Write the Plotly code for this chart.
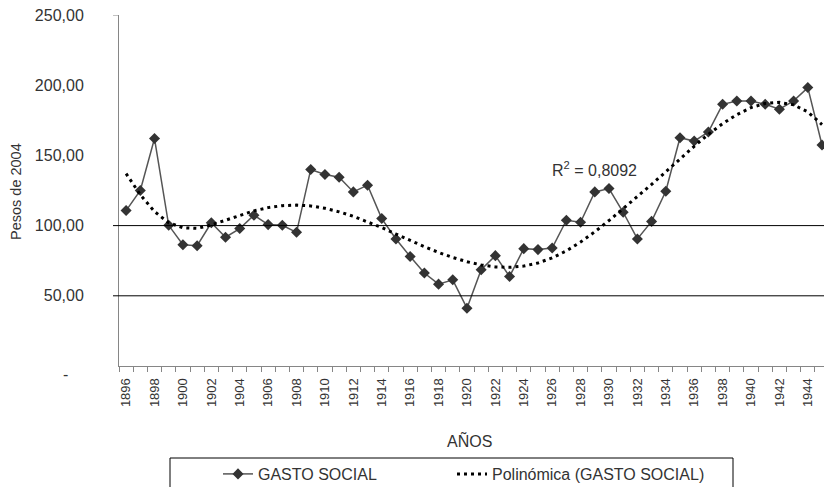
import plotly.graph_objects as go

years = list(range(1896, 1946))
gasto_social = [110.7, 125.0, 162.0, 100.2, 86.4, 85.7, 102.0, 91.7, 97.9, 107.4,
                100.7, 100.2, 95.2, 140.0, 136.4, 134.5, 124.0, 128.8, 105.0, 90.5,
                78.0, 66.2, 58.3, 61.4, 41.2, 68.6, 78.6, 63.8, 83.6, 82.9,
                84.0, 103.8, 102.4, 124.0, 126.4, 109.5, 90.5, 103.0, 124.5, 162.6,
                160.2, 166.7, 186.4, 188.8, 188.8, 186.4, 182.9, 188.8, 198.3, 157.4]
# polynomial trendline
tendencia = [137.0, 122.0, 110.0, 102.0, 98.5, 98.0, 100.5, 104.0, 107.5, 110.5,
             112.8, 114.2, 114.6, 114.0, 112.3, 109.8, 106.6, 102.8, 98.6, 94.0,
             89.4, 85.0, 80.9, 77.3, 74.3, 72.0, 70.6, 70.3, 71.2, 73.4,
             77.0, 82.0, 88.3, 95.6, 103.6, 112.0, 120.6, 129.3, 138.3, 147.5,
             156.5, 165.0, 172.6, 179.0, 184.0, 187.0, 187.8, 186.0, 181.0, 172.0]
x_tick_vals = list(range(1896, 1946, 2))
x_tick_text = [str(y) for y in x_tick_vals]
y_tick_vals = [50, 100, 150, 200, 250]
y_tick_text = ["50,00", "100,00", "150,00", "200,00", "250,00"]
zero_label = "-"
r2_text = "R<sup>2</sup> = 0,8092"

FONT = "Liberation Sans, Arial, sans-serif"
TXT = "#333333"
AX = "#868686"

W, H = 824, 487
L, R, T, B = 119, 0, 15, 121
PW = W - L - R
PH = H - T - B

def px_x(p):
    return (p - L) / PW

def px_y(p):
    return (H - B - p) / PH

fig = go.Figure()
fig.add_trace(go.Scatter(
    x=years, y=gasto_social, mode="lines+markers", name="GASTO SOCIAL",
    line=dict(color="#555555", width=1.5),
    marker=dict(symbol="diamond", size=8.5, color="#333333"),
    legendwidth=189,
))
fig.add_trace(go.Scatter(
    x=years, y=tendencia, mode="lines", name="Polinómica (GASTO SOCIAL)",
    line=dict(color="#000000", width=3, dash="3px,4px"),
    legendwidth=236,
))

shapes = [
    dict(type="line", xref="paper", yref="y", x0=-6 / PW, x1=1, y0=100, y1=100,
         line=dict(color="#000000", width=1)),
    dict(type="line", xref="paper", yref="y", x0=-6 / PW, x1=1, y0=50, y1=50,
         line=dict(color="#000000", width=1)),
    dict(type="line", xref="paper", yref="y", x0=-6 / PW, x1=0, y0=250, y1=250,
         line=dict(color=AX, width=1)),
    dict(type="rect", xref="paper", yref="paper", x0=px_x(170), x1=px_x(733),
         y0=px_y(458), y1=px_y(520), line=dict(color="#000000", width=1),
         fillcolor="rgba(0,0,0,0)"),
]

annotations = [
    dict(text=r2_text, xref="x", yref="y", x=1929, y=140.5, showarrow=False,
         xanchor="center", yanchor="middle",
         font=dict(family=FONT, size=16, color=TXT)),
    dict(text="Pesos de 2004", xref="paper", yref="paper", x=px_x(15.5), y=px_y(191.5),
         xanchor="center", yanchor="middle",
         textangle=-90, showarrow=False, font=dict(family=FONT, size=14.5, color=TXT)),
    dict(text="AÑOS", xref="paper", yref="paper", x=px_x(469), y=px_y(440),
         xanchor="center", yanchor="middle",
         showarrow=False, font=dict(family=FONT, size=16, color=TXT)),
    dict(text=zero_label, xref="paper", yref="paper", x=px_x(65.5), y=px_y(375),
         xanchor="center", yanchor="middle",
         showarrow=False, font=dict(family=FONT, size=16, color=TXT)),
]

fig.update_layout(
    width=W, height=H,
    margin=dict(l=L, r=R, t=T, b=B, pad=0, autoexpand=False),
    paper_bgcolor="white", plot_bgcolor="white",
    font=dict(family=FONT, color=TXT),
    showlegend=True,
    legend=dict(orientation="h", x=px_x(218), xanchor="left", y=px_y(457), yanchor="top",
                bgcolor="rgba(0,0,0,0)", borderwidth=0,
                font=dict(family=FONT, size=16, color=TXT)),
    shapes=shapes,
    annotations=annotations,
    xaxis=dict(
        range=[1895.5, 1945.14], showgrid=False, zeroline=False,
        showline=True, linecolor=AX, linewidth=1, automargin=False,
        tickmode="array", tickvals=x_tick_vals, ticktext=x_tick_text,
        tickangle=-90, ticks="outside", ticklen=6, tickcolor="rgba(0,0,0,0)",
        tickfont=dict(family=FONT, size=13, color=TXT),
        minor=dict(tickmode="linear", tick0=1895.5, dtick=1, ticks="outside",
                   ticklen=5, tickcolor=AX, showgrid=False),
    ),
    yaxis=dict(
        range=[0, 250], showgrid=False, zeroline=False,
        showline=True, linecolor=AX, linewidth=1, automargin=False,
        tickmode="array", tickvals=y_tick_vals, ticktext=y_tick_text,
        ticks="outside", ticklen=31, tickcolor="rgba(0,0,0,0)",
        tickfont=dict(family=FONT, size=16, color=TXT),
    ),
)

fig.write_html(
    "out.html",
    config={"displayModeBar": False},
    post_script="document.body.style.margin='0';document.body.style.padding='0';"
                "document.body.style.overflow='hidden';",
)
